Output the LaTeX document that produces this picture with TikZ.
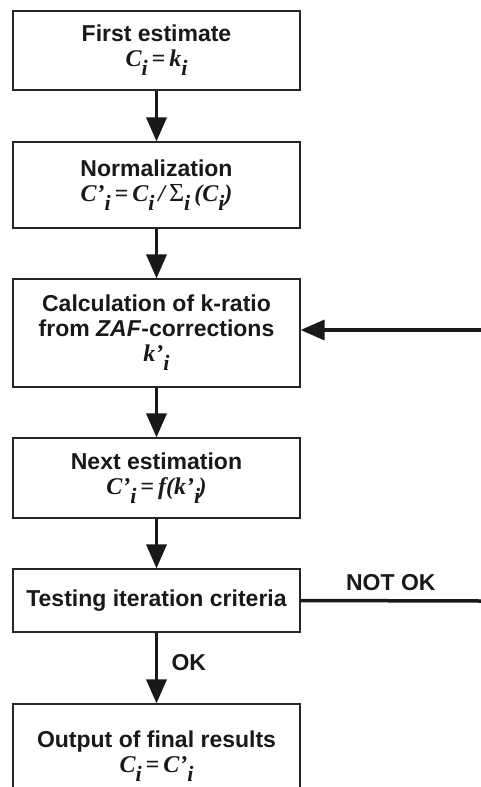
\documentclass[tikz,border=0pt]{standalone}
\usepackage{fontspec}
\setmainfont{Liberation Sans}
\newfontfamily\eqfont{Liberation Serif}
\usepackage{tikz}
\usetikzlibrary{arrows.meta}

\newcommand{\subi}{\raisebox{-9pt}{\fontsize{22}{22}\selectfont i}}
\newcommand{\frm}[1]{{\eqfont\fontsize{24}{25}\selectfont\bfseries\itshape #1}}
\newcommand{\sumsign}{{\upshape\mdseries\fontsize{26}{25}\selectfont Σ}}

\begin{document}
\begin{tikzpicture}[x=1pt,y=1pt,>={Triangle[width=20pt,length=24pt]},
    box/.style={draw=black!85,line width=1.2pt,fill=white,align=center,
      minimum width=287pt,inner sep=0pt,text=black!90,
      font=\fontsize{23}{25}\selectfont\bfseries},
    flow/.style={line width=3.5pt,black!90},
    lbl/.style={text=black!90,font=\fontsize{23}{25}\selectfont\bfseries}]

    \useasboundingbox (0,0) rectangle (481,-787);
    \clip (0,0) rectangle (481,-787);

    \node[box,minimum height=79pt]   (first) at (156.5,-50.5)  {First estimate\\ \frm{C\subi\,=\,k\subi}};
    \node[box,minimum height=86pt]   (norm)  at (156.5,-185)   {Normalization\\ \frm{C’\subi\,=\,C\subi\,/\,\sumsign\subi\,(C\subi)}};
    \node[box,minimum height=108pt]  (calc)  at (156.5,-333)   {Calculation of k-ratio\\ from \textit{ZAF}-corrections\\ \frm{k’\subi}};
    \node[box,minimum height=80pt]   (next)  at (156.5,-478)   {Next estimation\\ \frm{C’\subi\,=\,f(k’\subi\kern-1.5pt)}};
    \node[box,minimum height=63pt]   (test)  at (156.5,-600.5) {Testing iteration criteria};
    \node[box,minimum height=104pt]  (out)   at (156.5,-756)   {Output of final results\\ \frm{C\subi\,=\,C’\subi}};

    \coordinate (back) at (481,-330);
    \coordinate (fail) at (481,-601);

    \draw (first) edge[->,flow] (norm);
    \draw (norm)  edge[->,flow] (calc);
    \draw (calc)  edge[->,flow] (next);
    \draw (next)  edge[->,flow] (test);
    \draw[->,flow] (test) -- node[lbl,right=10pt,pos=0.42] (oklbl) {OK} (out);
    \draw[flow] (test.east) -- node[lbl,above=5pt] (notoklbl) {NOT OK} (fail);
    \draw[->,flow] (back) -- (back -| calc.east);
  \end{tikzpicture}
\end{document}
